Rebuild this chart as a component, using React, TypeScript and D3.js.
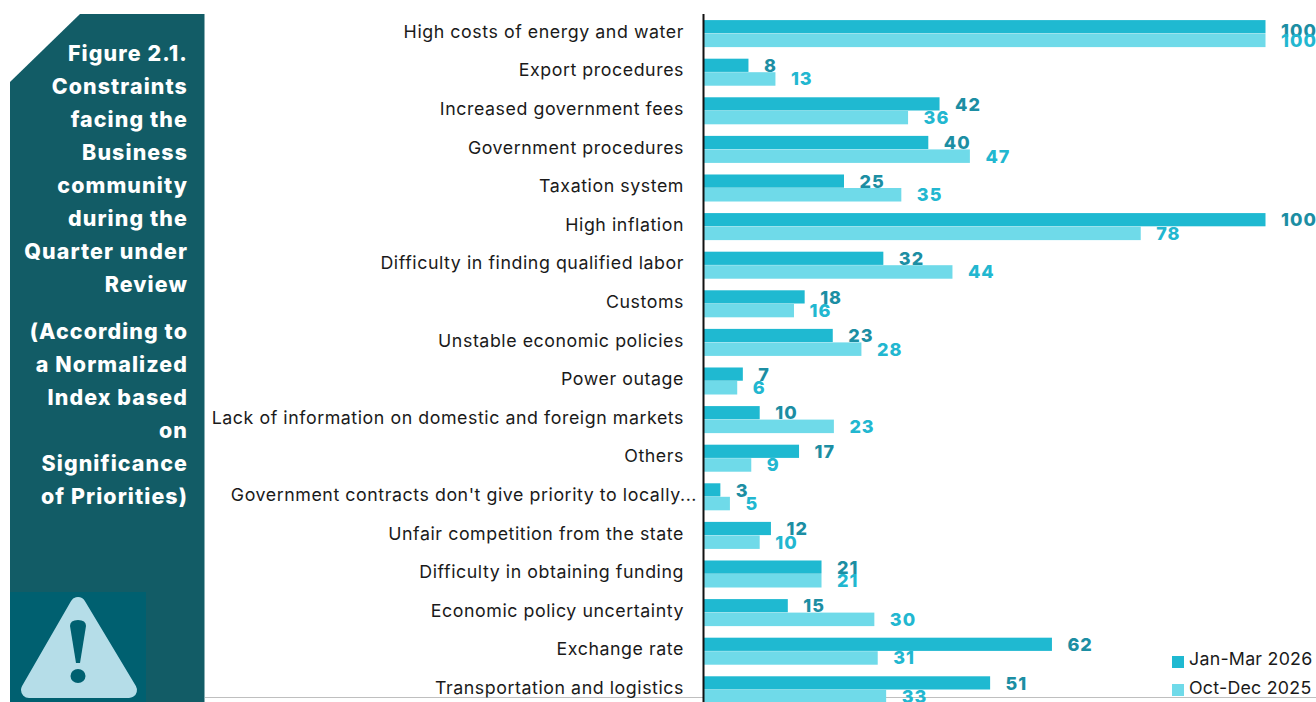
import React from "react";
import * as d3 from "d3";

const categories = [
  "High costs of energy and water", "Export procedures", "Increased government fees", "Government procedures",
  "Taxation system", "High inflation", "Difficulty in finding qualified labor", "Customs",
  "Unstable economic policies", "Power outage", "Lack of information on domestic and foreign markets", "Others",
  "Government contracts don't give priority to locally...", "Unfair competition from the state",
  "Difficulty in obtaining funding", "Economic policy uncertainty", "Exchange rate", "Transportation and logistics",
];
const janMar2026 = [100, 8, 42, 40, 25, 100, 32, 18, 23, 7, 10, 17, 3, 12, 21, 15, 62, 51];
const octDec2025 = [100, 12.8, 36.4, 47.4, 35.2, 77.8, 44.3, 16.1, 28.1, 6, 23.2, 8.5, 4.7, 10, 21, 30.4, 31, 32.5];
const titleLines = ["Figure 2.1.", "Constraints", "facing the", "Business", "community", "during the", "Quarter under", "Review"];
const noteLines = ["(According to", "a Normalized", "Index based", "on", "Significance", "of Priorities)"];
const seriesNames = ["Jan-Mar 2026", "Oct-Dec 2025"];

const FONT = "Inter, 'Noto Sans', sans-serif";
const C1 = "#1fb9d1", C2 = "#6fdae9", L1 = "#1c8ea3", L2 = "#22b7d0", PANEL = "#125c66";

export default function App() {
  const x = d3.scaleLinear().domain([0, 100]).range([703.5, 1265.5]);
  const y = d3.scaleBand<number>().domain(d3.range(18)).range([14.3, 709.1]).paddingInner(0.3).paddingOuter(0.15);
  const h = y.bandwidth() / 2;
  return (
    <svg width={1316} height={702} style={{ position: "fixed", left: 0, top: 0, background: "#fff" }} fontFamily={FONT}>
      <path d="M80 14H204.5V702H10V82Z" fill={PANEL} />
      {titleLines.map((t, i) => (
        <text key={t} x={188} y={53 + i * 33} dy="0.36em" textAnchor="end" fill="#fff" fontSize={21.4} fontWeight={800} letterSpacing={1.1}>{t}</text>
      ))}
      {noteLines.map((t, i) => (
        <text key={t} x={188} y={331 + i * 33} dy="0.36em" textAnchor="end" fill="#fff" fontSize={21.4} fontWeight={800} letterSpacing={1.1}>{t}</text>
      ))}
      <rect x={10} y={592} width={136} height={110} fill="#006070" />
      <path d="M78 605 L129 690 H29 Z" fill="#b5dde8" stroke="#b5dde8" strokeWidth={16} strokeLinejoin="round" />
      <path d="M70 626 Q70 620 78 620 Q86 620 86 626 L80 663 H76 Z" fill="#006070" />
      <ellipse cx={78} cy={676} rx={7.5} ry={7} fill="#006070" />

      <line x1={205} x2={1316} y1={697.5} y2={697.5} stroke="#bfbfbf" strokeWidth={1} />

      {categories.map((c, i) => {
        const y0 = y(i)!;
        const shift = i === 0 ? 4 : 0;
        return (
          <g key={c}>
            <text x={i === 12 ? 697 : 684} y={y0 + h - 2} dy="0.35em" textAnchor="end" fontSize={17.8} fill="#1a1a1a" letterSpacing={0.56}>{c}</text>
            <rect x={x(0)} y={y0} width={x(janMar2026[i]) - x(0)} height={h - 0.3} fill={C1} />
            <rect x={x(0)} y={y0 + h} width={x(octDec2025[i]) - x(0)} height={h} fill={C2} />
            <text x={x(janMar2026[i]) + 15.5} y={y0 + h / 2 + shift} dy="0.36em" fontSize={18} fontWeight={800} fill={L1} letterSpacing={1}>{Math.round(janMar2026[i])}</text>
            <text x={x(octDec2025[i]) + 15.5} y={y0 + h * 1.5} dy="0.36em" fontSize={18} fontWeight={800} fill={L2} letterSpacing={1}>{Math.round(octDec2025[i])}</text>
          </g>
        );
      })}
      <line x1={x(0)} x2={x(0)} y1={14} y2={702} stroke="#111" strokeWidth={2} />

      {seriesNames.map((s, i) => (
        <g key={s}>
          <rect x={1172} y={656 + i * 28} width={12} height={12} fill={i === 0 ? C1 : C2} />
          <text x={1189} y={659 + i * 29} dy="0.35em" fontSize={17.8} letterSpacing={0.25} fill="#1a1a1a">{s}</text>
        </g>
      ))}
    </svg>
  );
}
